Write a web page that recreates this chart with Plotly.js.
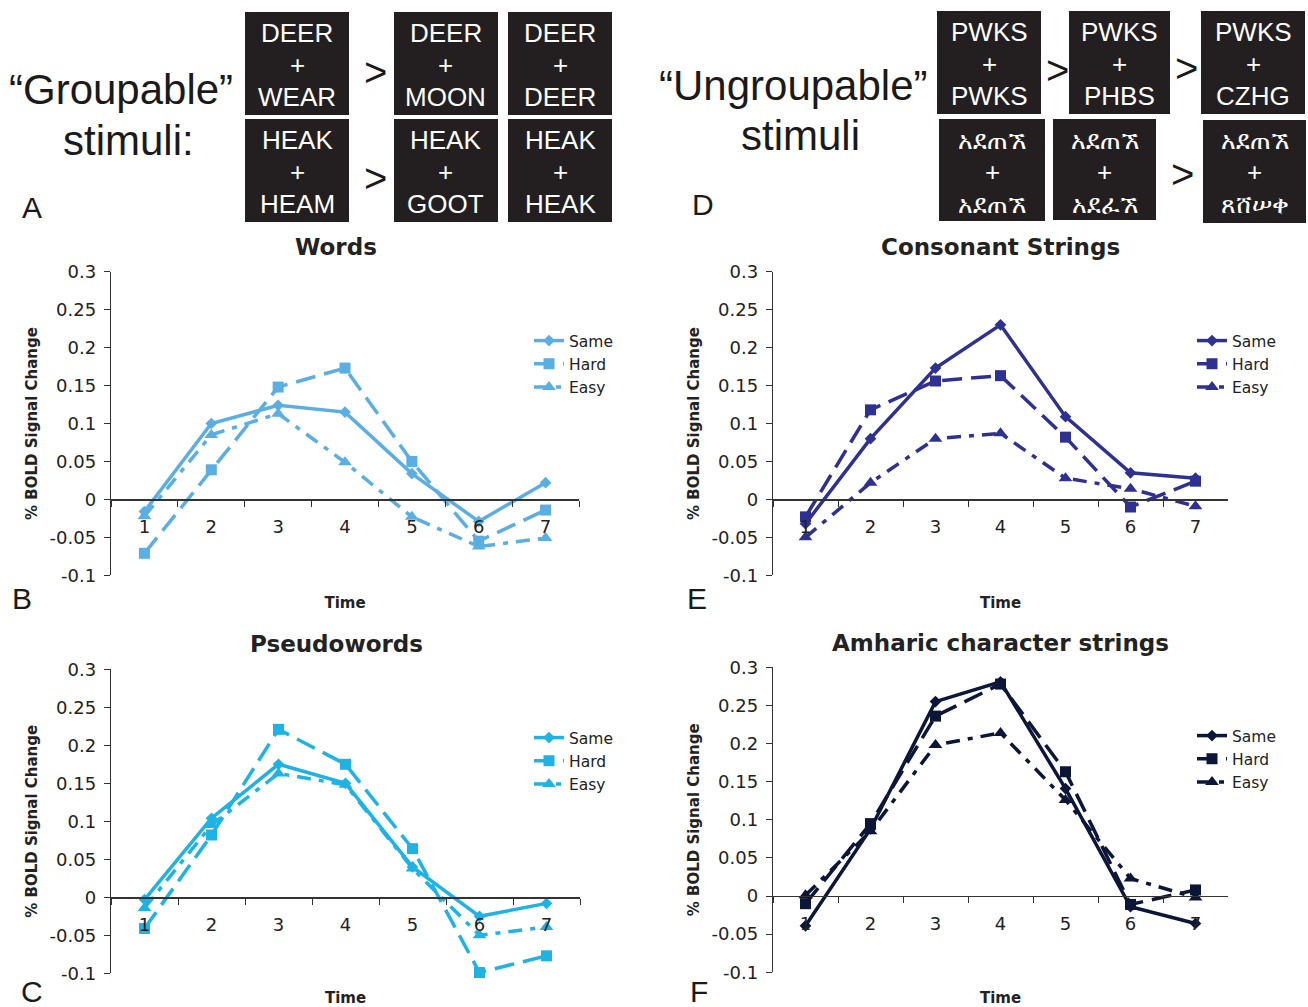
<!DOCTYPE html>
<html><head><meta charset="utf-8">
<script src="https://cdn.plot.ly/plotly-3.0.1.min.js"></script>
<style>html,body{margin:0;padding:0;background:#fff}#chart{width:1308px;height:1007px}</style>
</head><body><div id="chart"></div>
<script>
// ---------- data ----------
const timeLabels = ['1','2','3','4','5','6','7'];
const seriesNames = ['Same','Hard','Easy'];
const yTickVals = [-0.1,-0.05,0,0.05,0.1,0.15,0.2,0.25,0.3];
const yTickText = ['-0.1','-0.05','0','0.05','0.1','0.15','0.2','0.25','0.3'];

const wordsSame = [-0.016,0.100,0.124,0.115,0.034,-0.029,0.022];
const wordsHard = [-0.071,0.039,0.148,0.173,0.050,-0.055,-0.014];
const wordsEasy = [-0.022,0.085,0.113,0.049,-0.023,-0.062,-0.051];

const consSame = [-0.032,0.080,0.173,0.230,0.109,0.035,0.028];
const consHard = [-0.023,0.118,0.156,0.163,0.082,-0.010,0.024];
const consEasy = [-0.050,0.022,0.080,0.087,0.028,0.014,-0.009];

const pseudoSame = [-0.003,0.104,0.175,0.150,0.040,-0.025,-0.008];
const pseudoHard = [-0.041,0.082,0.221,0.175,0.064,-0.099,-0.077];
const pseudoEasy = [-0.014,0.095,0.163,0.148,0.038,-0.050,-0.039];

const amhSame = [-0.039,0.088,0.255,0.281,0.141,-0.014,-0.036];
const amhHard = [-0.010,0.095,0.236,0.278,0.163,-0.011,0.008];
const amhEasy = [0.001,0.085,0.198,0.214,0.126,0.023,-0.002];

const panelTitles = ['Words','Consonant Strings','Pseudowords','Amharic character strings'];
const panelLetters = ['A','B','C','D','E','F'];

const groupableWords = [
  [['DEER','WEAR'],['DEER','MOON'],['DEER','DEER']],
  [['HEAK','HEAM'],['HEAK','GOOT'],['HEAK','HEAK']]
];
const ungroupableWords = [
  [['PWKS','PWKS'],['PWKS','PHBS'],['PWKS','CZHG']],
  [['አደጠኧ','አደጠኧ'],['አደጠኧ','አደፈኧ'],['አደጠኧ','ጸሸሠቀ']]
];

// ---------- helpers ----------
const W = 1308, H = 1007;
const fx = x => x / W;
const fy = y => 1 - y / H;
const annotations = [];
const shapes = [];
function txt(text, x, y, size, opts) {
  opts = opts || {};
  annotations.push({
    text: text, x: fx(x), y: fy(y), xref: 'paper', yref: 'paper',
    xanchor: opts.xanchor || 'center', yanchor: 'middle', showarrow: false,
    font: {family: opts.family || 'Liberation Sans, Arial, sans-serif', size: size,
           color: opts.color || '#1a1a1a', weight: opts.weight || 'normal'}
  });
}
function box(x0, x1, y0, y1) {
  shapes.push({type:'rect', xref:'paper', yref:'paper', x0:fx(x0), x1:fx(x1), y0:fy(y1), y1:fy(y0),
    fillcolor:'#231f20', line:{width:0}, layer:'below'});
}

// ---------- stimuli (top) ----------
const leftCols = [[245,349],[394,498],[508,612]];
const leftRows = [[12,115,33],[119,222,140]];
leftRows.forEach((r, ri) => leftCols.forEach((c, ci) => {
  box(c[0], c[1], r[0], r[1]);
  const cx = (c[0]+c[1])/2;
  txt(groupableWords[ri][ci][0], cx, r[2], 26, {color:'#fff'});
  txt('+', cx, r[2]+32, 26, {color:'#fff'});
  txt(groupableWords[ri][ci][1], cx, r[2]+64, 26, {color:'#fff'});
}));
txt('>', 375, 72, 40); txt('>', 375, 178, 40);
txt('\u201CGroupable\u201D', 121, 89, 42);
txt('stimuli:', 128, 140, 42);

const rightBoxes = [
  [[937,1041,11,114],[1069,1170,11,114],[1201,1305,11,114]],
  [[939,1045,119,221],[1053,1156,119,220],[1203,1306,120,223]]
];
const rightTextY = [32,140];
rightBoxes.forEach((row, ri) => row.forEach((b, ci) => {
  box(b[0], b[1], b[2], b[3]);
  const cx = (b[0]+b[1])/2;
  const fam = ri === 1 ? 'DejaVu Sans, Noto Sans, sans-serif' : 'Liberation Sans, Arial, sans-serif';
  const sz = ri === 1 ? 25 : 26;
  txt(ungroupableWords[ri][ci][0], cx, rightTextY[ri], sz, {color:'#fff', family:fam});
  txt('+', cx, rightTextY[ri]+32, 26, {color:'#fff'});
  txt(ungroupableWords[ri][ci][1], cx, rightTextY[ri]+64, sz, {color:'#fff', family:fam});
}));
txt('>', 1057, 70, 40); txt('>', 1186, 68, 40); txt('>', 1182, 174, 40);
txt('\u201CUngroupable\u201D', 793, 86, 42);
txt('stimuli', 800, 135, 42);

// panel letters
const letterPos = [[32,208],[22,598],[32,991],[703,204],[697,598],[699,991]];
panelLetters.forEach((l, i) => txt(l, letterPos[i][0], letterPos[i][1], 30));

// ---------- panels ----------
const panels = [
  {title: panelTitles[0], color:'#5AAEE2', data:[wordsSame,wordsHard,wordsEasy], xd:[111,579], yd:[271.7,575.3], tpos:[336,247], leg:[529,324]},
  {title: panelTitles[1], color:'#2E3192', data:[consSame,consHard,consEasy], xd:[773,1228], yd:[271.7,575.3], tpos:[1000,247], leg:[1192,324]},
  {title: panelTitles[2], color:'#1EB2E5', data:[pseudoSame,pseudoHard,pseudoEasy], xd:[111,580], yd:[669.3,973.3], tpos:[336,644], leg:[529,721]},
  {title: panelTitles[3], color:'#0C1638', data:[amhSame,amhHard,amhEasy], xd:[773,1228], yd:[667.3,972.3], tpos:[1000,643], leg:[1192,719]}
];
const styles = [
  {dash:'solid', symbol:'diamond', size:9},
  {dash:'20px,9px', symbol:'square', size:11},
  {dash:'14px,8px,5px,8px', symbol:'triangle-up', size:12}
];

const traces = [];
const layout = {
  width: W, height: H, margin:{l:0,r:0,t:0,b:0},
  paper_bgcolor:'#fff', plot_bgcolor:'rgba(0,0,0,0)',
  showlegend: true, annotations: annotations, shapes: shapes
};
const axisFont = {family:'DejaVu Sans, Verdana, sans-serif', size:18, color:'#222'};
const titleFont = {family:'DejaVu Sans, Verdana, sans-serif', size:15, color:'#222', weight:'bold'};

panels.forEach((p, i) => {
  const n = i === 0 ? '' : String(i+1);
  const xa = 'xaxis'+n, ya = 'yaxis'+n, lg = 'legend'+n;
  const ydom = [fy(p.yd[1]), fy(p.yd[0])];
  const zeroPos = ydom[0] + (0 - (-0.1)) / 0.4 * (ydom[1]-ydom[0]);
  layout[xa] = {
    type:'category', domain:[fx(p.xd[0]), fx(p.xd[1])], anchor:'free', position: zeroPos,
    range:[-0.5, 6.5], showline:true, linecolor:'#333', linewidth:1.2,
    ticks:'outside', tickson:'boundaries', ticklen:6, tickcolor:'#333', ticklabelstandoff:11,
    tickfont: axisFont, showgrid:false, zeroline:false, fixedrange:true,
    title:{text:'Time', font:titleFont, standoff:61}
  };
  layout[ya] = {
    domain: ydom, anchor: 'x'+n, range:[-0.1,0.3], showline:true, linecolor:'#333', linewidth:1.2,
    ticks:'outside', ticklen:6, tickcolor:'#333', tickvals:yTickVals, ticktext:yTickText,
    tickfont: axisFont, showgrid:false, zeroline:false, ticklabelstandoff:4,
    title:{text:'% BOLD Signal Change', font:titleFont, standoff:8}
  };
  layout[lg] = {
    x: fx(p.leg[0]), y: fy(p.leg[1]), xanchor:'left', yanchor:'top', bgcolor:'rgba(0,0,0,0)',
    font:{family:'DejaVu Sans, Verdana, sans-serif', size:15.5, color:'#222'}, tracegroupgap:0
  };
  txt(p.title, p.tpos[0], p.tpos[1], 23, {family:'DejaVu Sans, Verdana, sans-serif', weight:'bold', color:'#222'});
  p.data.forEach((vals, k) => {
    traces.push({
      type:'scatter', mode:'lines+markers', x: timeLabels, y: vals, name: seriesNames[k],
      xaxis:'x'+n, yaxis:'y'+n, legend: lg, cliponaxis:false,
      line:{color:p.color, width:3.5, dash:styles[k].dash},
      marker:{color:p.color, symbol:styles[k].symbol, size:styles[k].size}
    });
  });
});

Plotly.newPlot('chart', traces, layout, {staticPlot:true, displayModeBar:false});
</script></body></html>
